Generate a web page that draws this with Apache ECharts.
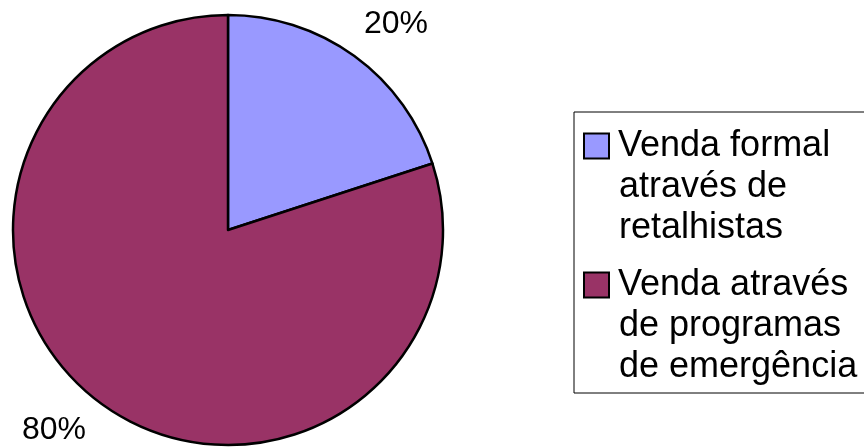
<!DOCTYPE html>
<html>
<head>
<meta charset="utf-8">
<script src="https://cdn.jsdelivr.net/npm/echarts@6/dist/echarts.min.js"></script>
<style>html,body{margin:0;padding:0;background:#fff}#c{width:864px;height:447px}</style>
</head>
<body>
<div id="c"></div>
<script>
var categories = ['Venda formal através de retalhistas', 'Venda através de programas de emergência'];
var legendLines = [['Venda formal', 'através de', 'retalhistas'], ['Venda através', 'de programas', 'de emergência']];
var values = [20, 80];
var colors = ['#9999FF', '#993366'];

var FONT = '"Liberation Sans", Arial, sans-serif';
var labelPos = [[396, 24], [54, 430]];

var rich = {
  t: { fontSize: 36, fontFamily: FONT, color: '#000', lineHeight: 41 },
  i: { width: 34, lineHeight: 41, fontSize: 36 }
};
colors.forEach(function (c, k) {
  rich['s' + k] = { width: 23, height: 23, backgroundColor: c, borderColor: '#000', borderWidth: 2, lineHeight: 41 };
});
rich.g = { width: 10, lineHeight: 41, fontSize: 36 };

var chart = echarts.init(document.getElementById('c'), null, { renderer: 'canvas' });
chart.setOption({
  animation: false,
  backgroundColor: '#fff',
  legend: {
    orient: 'vertical',
    left: 574,
    top: 112,
    icon: 'none',
    itemWidth: 0,
    itemHeight: 10,
    itemGap: 21,
    padding: [16, 8, 8, 6],
    borderColor: '#000',
    borderWidth: 1,
    data: categories,
    formatter: function (name) {
      var k = categories.indexOf(name);
      var ls = legendLines[k];
      var s = '{s' + k + '|}{g| }{t|' + ls[0] + '}';
      for (var j = 1; j < ls.length; j++) s += '\n{i| }{t|' + ls[j] + '}';
      return s;
    },
    textStyle: { rich: rich, fontSize: 36, fontFamily: FONT }
  },
  series: [{
    type: 'pie',
    center: [228, 230],
    radius: 215,
    startAngle: 90,
    clockwise: true,
    itemStyle: { borderColor: '#000', borderWidth: 2.5 },
    label: {
      show: true,
      position: 'outside',
      formatter: '{d}%',
      fontSize: 32,
      fontFamily: FONT,
      color: '#000',
      overflow: 'none',
      width: 100
    },
    labelLine: { show: false },
    labelLayout: function (p) {
      var pos = labelPos[p.dataIndex];
      return { x: pos[0], y: pos[1], align: 'center', verticalAlign: 'middle' };
    },
    emphasis: { disabled: true },
    data: categories.map(function (n, k) {
      return { name: n, value: values[k], itemStyle: { color: colors[k] } };
    })
  }]
});
</script>
</body>
</html>
